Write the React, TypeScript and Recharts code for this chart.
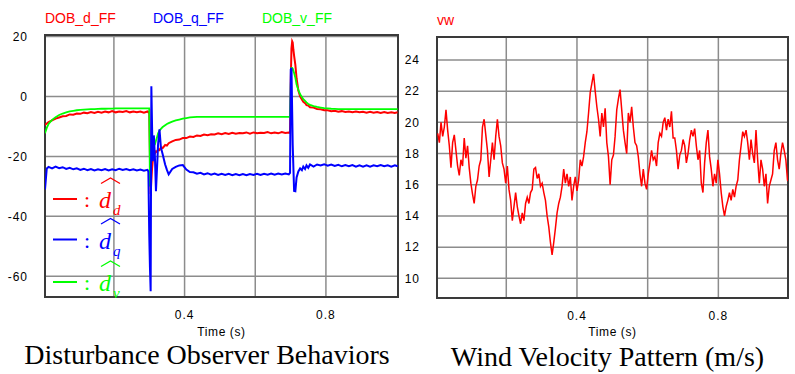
import React from 'react';
import { LineChart, Line, XAxis, YAxis, CartesianGrid, ReferenceArea } from 'recharts';

// ---------- Left chart: Disturbance observer outputs ----------
const leftTime = [
  0.005, 0.01, 0.015, 0.025, 0.035, 0.045, 0.055, 0.065, 0.075, 0.085, 0.095, 0.105, 0.115, 0.125, 0.135, 0.145,
  0.155, 0.165, 0.175, 0.185, 0.195, 0.205, 0.215, 0.225, 0.235, 0.245, 0.255, 0.265, 0.275, 0.285, 0.295,
  0.2975, 0.3, 0.302, 0.304, 0.306, 0.308, 0.31, 0.313, 0.316, 0.319, 0.322, 0.325, 0.329, 0.333, 0.338, 0.345, 0.35, 0.355,
  0.365, 0.375, 0.385, 0.395, 0.405, 0.415, 0.425, 0.435, 0.445, 0.455, 0.465, 0.475, 0.485, 0.495, 0.505, 0.515,
  0.525, 0.535, 0.545, 0.555, 0.565, 0.575, 0.585, 0.595, 0.605, 0.615, 0.625, 0.635, 0.645, 0.655, 0.665, 0.675, 0.685, 0.695,
  0.6985, 0.7005, 0.7025, 0.7045, 0.706, 0.708, 0.71, 0.7135, 0.717, 0.722, 0.727, 0.732, 0.736, 0.741, 0.745, 0.75, 0.755,
  0.765, 0.775, 0.785, 0.795, 0.805, 0.815, 0.825, 0.835, 0.845, 0.855, 0.865, 0.875, 0.885, 0.895, 0.905, 0.915,
  0.925, 0.935, 0.945, 0.955, 0.965, 0.975, 0.985, 0.995, 1.003,
];

const dobD = [
  -9.5, -9.0, -8.6, -8.0, -7.4, -7.0, -6.6, -6.5, -6.0, -6.1, -5.7, -5.8, -5.4, -5.6, -5.2, -5.5,
  -5.1, -5.4, -5.0, -5.3, -4.9, -5.3, -5.0, -5.2, -4.9, -5.3, -5.0, -5.3, -5.0, -5.4, -5.0,
  -5.3, -5.0, -20, -32.5, -28, -24, -21.5, -19.5, -19, -18.3, -18.5, -17.6, -17.9, -17.0, -17.2, -16.2, -16.4, -15.6,
  -15.0, -14.5, -14.4, -13.9, -13.9, -13.4, -13.5, -13.0, -13.2, -12.7, -12.9, -12.6, -12.7, -12.3, -12.6, -12.2,
  -12.5, -12.1, -12.4, -12.2, -12.3, -12.0, -12.4, -12.0, -12.3, -12.1, -12.2, -11.9, -12.3, -12.0, -12.3, -11.9, -12.2, -12.0,
  -12.2, 5, 16, 18.4, 18.0, 15.5, 13.5, 10.5, 6.0, 2.0, 0.0, -1.0, -1.8, -2.2, -2.9, -3.0, -3.6,
  -3.7, -4.2, -4.3, -4.6, -4.6, -4.9, -4.8, -5.1, -4.9, -5.2, -5.0, -5.3, -5.0, -5.3, -5.1, -5.4,
  -5.1, -5.4, -5.2, -5.5, -5.2, -5.5, -5.3, -5.5, -5.3,
];

const dobQ = [
  -31, -24.0, -23.5, -24.0, -23.4, -23.9, -23.6, -24.2, -23.8, -24.3, -24.0, -24.5, -24.1, -24.6, -24.2, -24.7,
  -24.3, -24.6, -24.2, -24.7, -24.3, -24.6, -24.1, -24.5, -24.2, -24.6, -24.3, -24.7, -24.4, -24.8, -24.5,
  -25.0, -46, -57, -65, 3.4, -10, -21.6, -13, -20, -31.6, -24, -16, -11, -17, -19.3, -22.7, -24.5, -26,
  -24.2, -23.5, -23.0, -22.9, -24.4, -25.2, -25.3, -25.8, -25.5, -26.0, -25.6, -26.1, -25.7, -26.2, -25.8, -26.2,
  -25.8, -26.3, -25.9, -26.3, -25.9, -26.3, -25.9, -26.2, -25.8, -26.2, -25.8, -26.1, -25.7, -26.1, -25.7, -26.0, -25.7, -26.0,
  -25.5, 9.0, 9.5, -5, -16, -24, -31.5, -31.6, -27, -25.0, -24.0, -24.6, -23.4, -24.2, -23.0, -23.8, -22.7,
  -23.4, -22.7, -23.0, -22.6, -23.1, -22.7, -23.2, -22.8, -23.3, -22.9, -23.3, -22.9, -23.4, -23.0, -23.4, -23.0,
  -23.4, -23.0, -23.3, -22.9, -23.3, -23.0, -23.4, -23.0, -23.3,
];

const dobV = [
  -12.3, -10.5, -9.2, -7.8, -6.9, -6.2, -5.7, -5.3, -5.0, -4.8, -4.6, -4.5, -4.4, -4.3, -4.25, -4.2,
  -4.15, -4.1, -4.1, -4.05, -4.05, -4.0, -4.0, -4.0, -4.0, -4.0, -4.0, -4.0, -4.0, -4.0, -4.0,
  -4.0, -4.0, -30, -18, -17.2, -17.0, -16.8, -16.5, -16.0, -14.8, -13.6, -12.3, -11.4, -10.8, -10.2, -9.6, -9.2, -8.9,
  -8.4, -8.0, -7.7, -7.4, -7.2, -7.0, -6.9, -6.8, -6.8, -6.8, -6.8, -6.8, -6.8, -6.8, -6.8, -6.8,
  -6.8, -6.8, -6.8, -6.8, -6.8, -6.8, -6.8, -6.8, -6.8, -6.8, -6.8, -6.8, -6.8, -6.8, -6.8, -6.8, -6.8, -6.8,
  -6.8, 4, 9.5, 9.5, 9.3, 8.6, 7.8, 6.2, 4.0, 2.2, 0.7, -0.2, -0.9, -1.5, -2.0, -2.5, -2.8,
  -3.2, -3.5, -3.7, -3.9, -4.0, -4.1, -4.15, -4.2, -4.2, -4.2, -4.2, -4.2, -4.2, -4.2, -4.2, -4.2,
  -4.2, -4.2, -4.2, -4.2, -4.2, -4.2, -4.2, -4.2, -4.2,
];

const leftYTicks = [-60, -40, -20, 0, 20];
const leftYDomain: [number, number] = [-66.9, 20.5];
const leftXDomain: [number, number] = [0.005, 1.004];
const xTicks = [0.2, 0.4, 0.6, 0.8];
const xTickLabels = ['', '0.4', '', '0.8'];

// ---------- Right chart: wind velocity ----------
const windVw = [
  19.3, 18.7, 20.0, 19.1, 19.7, 20.8, 19.5, 18.5, 17.1, 18.7, 19.2, 18.2, 17.2, 16.6, 17.6, 17.2,
  19.0, 17.7, 18.5, 17.1, 16.1, 15.4, 14.8, 15.9, 16.3, 17.2, 17.6, 19.7, 20.2, 19.2, 18.2, 16.5,
  17.6, 18.7, 17.6, 19.1, 20.2, 19.1, 18.5, 17.4, 17.0, 16.1, 17.2, 15.7, 15.0, 13.7, 14.6, 15.5,
  14.6, 14.0, 13.5, 14.2, 13.7, 14.8, 15.2, 14.8, 15.5, 15.7, 17.0, 17.1, 16.4, 16.7, 15.9, 16.1,
  15.5, 15.0, 14.0, 13.3, 12.3, 11.5, 12.3,
  13.2,
  14.2, 14.8, 15.2, 15.9, 17.0, 16.1, 16.7, 15.9, 16.5, 15.0, 15.9, 16.5, 15.6, 16.3, 17.6, 17.2,
  17.8, 18.7, 19.4, 20.6, 21.9, 22.5, 23.1, 22.0, 21.0, 20.2, 19.1, 20.6, 19.7, 20.9, 18.7, 17.8,
  16.0, 17.6, 17.9, 19.1, 20.8, 21.5, 22.1, 20.8, 19.5, 18.7, 18.0, 20.6, 20.0, 21.0, 19.7, 18.7,
  18.5, 17.8, 16.7, 15.9, 17.0, 16.1, 15.7, 16.7, 17.4, 18.2, 17.6, 17.8, 17.2, 18.7, 19.3, 19.1,
  20.0, 20.3, 19.5, 20.2, 19.7, 20.7, 19.0,
  19.0, 18.2, 17.0, 17.9, 18.2, 18.9, 18.5, 17.4, 18.0, 18.9, 19.5, 19.1, 19.6, 18.5, 17.6, 18.2,
  16.1, 15.5, 17.4, 18.7, 19.5, 17.8, 17.0, 15.9, 16.7, 16.1, 17.6, 16.7, 15.5, 14.6, 14.0, 14.6,
  15.0, 15.5, 15.0, 15.7, 15.2, 15.9, 16.3, 17.6, 18.5, 19.4, 19.1, 19.5, 18.7, 17.6, 18.9, 18.0,
  17.4, 19.5, 17.6, 16.1, 17.6, 17.0, 15.9, 16.7, 14.8, 15.9, 16.3, 16.7, 18.2, 18.7, 17.6, 17.0,
  18.0, 18.7, 18.2, 17.6, 16.3, 16.2,
];
const windStart = 0.006;
const windStep = 0.00469;
const rightYTicks = [10, 12, 14, 16, 18, 20, 22, 24];
const rightYDomain: [number, number] = [8.74, 25.47];
const rightXDomain: [number, number] = [0.004, 0.997];

const leftData = leftTime.map((t, i) => ({ t, d: dobD[i], q: dobQ[i], v: dobV[i] }));
const windData = windVw.map((vw, i) => ({ t: windStart + i * windStep, vw }));

const SANS = "'Liberation Sans', Arial, Helvetica, sans-serif";
const SERIF = "'Liberation Serif', 'Times New Roman', serif";

const renderYTick = (props: any) => {
  const { x, y, payload } = props;
  return (
    <text x={x} y={y} dy={4.3} textAnchor="end" fontFamily={SANS} fontSize={12} letterSpacing={1} fill="#000">
      {payload.value}
    </text>
  );
};

const renderXTick = (props: any) => {
  const { x, y, payload, index } = props;
  const idx = xTicks.findIndex((v) => Math.abs(v - payload.value) < 1e-9);
  const label = idx >= 0 ? xTickLabels[idx] : '';
  return (
    <text x={x} y={y + 22} textAnchor="middle" fontFamily={SANS} fontSize={12} letterSpacing={1} fill="#000" key={index}>
      {label}
    </text>
  );
};

const GRID = '#8c8c8c';
const BOX = '#3a3a3a';

function Hat({ x, y, color }: { x: number; y: number; color: string }) {
  return <polyline points={`${x},${y + 5.5} ${x + 9.5},${y} ${x + 19},${y + 5.5}`} fill="none" stroke={color} strokeWidth={1.3} />;
}

function LegendRow({ y, color, sub }: { y: number; color: string; sub: string }) {
  return (
    <g>
      <line x1={53} x2={77} y1={y} y2={y} stroke={color} strokeWidth={2} />
      <text x={84} y={y + 8} fontFamily={SERIF} fontSize={22} fill={color}>:</text>
      <text x={99} y={y + 9} fontFamily={SERIF} fontStyle="italic" fontSize={24} fill={color}>d</text>
      <text x={113} y={y + 16} fontFamily={SERIF} fontStyle="italic" fontSize={15} fill={color}>{sub}</text>
      <Hat x={101} y={y - 21} color={color} />
    </g>
  );
}

export default function App() {
  return (
    <div style={{ position: 'absolute', left: 0, top: 0, width: 795, height: 374, background: '#fff', overflow: 'hidden' }}>
      <div style={{ position: 'absolute', left: 0, top: 0 }}>
        <LineChart width={400} height={374} data={leftData} margin={{ top: 35, right: 2, bottom: 47, left: 0 }}>
          <CartesianGrid stroke={GRID} strokeWidth={1.5} />
          <XAxis
            type="number"
            dataKey="t"
            domain={leftXDomain}
            allowDataOverflow
            ticks={xTicks}
            interval={0}
            tick={renderXTick}
            tickSize={0}
            tickMargin={0}
            tickLine={false}
            axisLine={false}
            height={30}
          />
          <YAxis
            type="number"
            domain={leftYDomain}
            allowDataOverflow
            ticks={leftYTicks}
            interval={0}
            tick={renderYTick}
            tickSize={0}
            tickMargin={17}
            tickLine={false}
            axisLine={false}
            width={45}
          />
          <ReferenceArea
            x1={leftXDomain[0]}
            x2={leftXDomain[1]}
            y1={leftYDomain[0]}
            y2={leftYDomain[1]}
            fill="none"
            fillOpacity={0}
            stroke={BOX}
            strokeWidth={2}
            ifOverflow="visible"
          />
          <Line type="linear" dataKey="d" stroke="#ff0000" strokeWidth={2} dot={false} activeDot={false} isAnimationActive={false} />
          <Line type="linear" dataKey="v" stroke="#00ff00" strokeWidth={1.8} dot={false} activeDot={false} isAnimationActive={false} />
          <Line type="linear" dataKey="q" stroke="#0000ff" strokeWidth={2} dot={false} activeDot={false} isAnimationActive={false} />
        </LineChart>
      </div>

      <div style={{ position: 'absolute', left: 390, top: 0 }}>
        <LineChart width={405} height={374} data={windData} margin={{ top: 37, right: 7, bottom: 46, left: 0 }}>
          <CartesianGrid stroke={GRID} strokeWidth={1.5} />
          <XAxis
            type="number"
            dataKey="t"
            domain={rightXDomain}
            allowDataOverflow
            ticks={xTicks}
            interval={0}
            tick={renderXTick}
            tickSize={0}
            tickMargin={0}
            tickLine={false}
            axisLine={false}
            height={30}
          />
          <YAxis
            type="number"
            domain={rightYDomain}
            allowDataOverflow
            ticks={rightYTicks}
            interval={0}
            tick={renderYTick}
            tickSize={0}
            tickMargin={17}
            tickLine={false}
            axisLine={false}
            width={47}
          />
          <ReferenceArea
            x1={rightXDomain[0]}
            x2={rightXDomain[1]}
            y1={rightYDomain[0]}
            y2={rightYDomain[1]}
            fill="none"
            fillOpacity={0}
            stroke={BOX}
            strokeWidth={2}
            ifOverflow="visible"
          />
          <Line type="linear" dataKey="vw" stroke="#ff0000" strokeWidth={1.5} dot={false} activeDot={false} isAnimationActive={false} />
        </LineChart>
      </div>

      <svg width={795} height={374} style={{ position: 'absolute', left: 0, top: 0, pointerEvents: 'none' }}>
        <text x={45} y={23.3} fontFamily={SANS} fontSize={14} fill="#ff0000">DOB_d_FF</text>
        <text x={153} y={23.3} fontFamily={SANS} fontSize={14} fill="#0000ff">DOB_q_FF</text>
        <text x={262} y={23.3} fontFamily={SANS} fontSize={14} fill="#00ff00">DOB_v_FF</text>
        <text x={437} y={25} fontFamily={SANS} fontSize={14} fill="#ff0000">vw</text>

        <LegendRow y={199} color="#ff0000" sub="d" />
        <LegendRow y={239.5} color="#0000ff" sub="q" />
        <LegendRow y={282} color="#00ff00" sub="v" />

        <text x={221.5} y={335.5} textAnchor="middle" fontFamily={SANS} fontSize={12} letterSpacing={0.6} fill="#000">Time (s)</text>
        <text x={612.5} y={335.5} textAnchor="middle" fontFamily={SANS} fontSize={12} letterSpacing={0.6} fill="#000">Time (s)</text>

        <text x={207} y={364} textAnchor="middle" fontFamily={SERIF} fontSize={28} fill="#000">Disturbance Observer Behaviors</text>
        <text x={607.5} y={366} textAnchor="middle" fontFamily={SERIF} fontSize={28} fill="#000">Wind Velocity Pattern (m/s)</text>
      </svg>
    </div>
  );
}
